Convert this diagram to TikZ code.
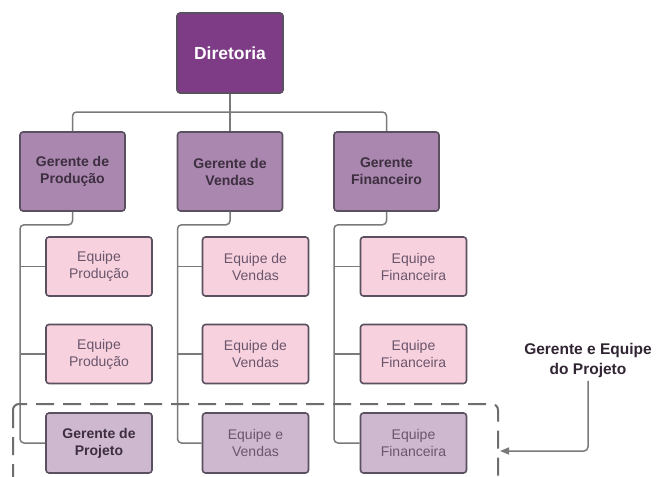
\documentclass[tikz,border=0pt]{standalone}
\usepackage{fontspec}
\setmainfont{Liberation Sans}
\usetikzlibrary{arrows.meta}
\definecolor{dirfill}{HTML}{7D3C85}
\definecolor{gerfill}{HTML}{A987AE}
\definecolor{eqfill}{HTML}{F8D1DE}
\definecolor{projfill}{HTML}{CDB8D0}
\definecolor{boxline}{HTML}{5A5060}
\definecolor{connline}{HTML}{7A7A7A}
\definecolor{gertext}{HTML}{3D2E40}
\definecolor{eqtext}{HTML}{6A566C}
\tikzset{
  box/.style={draw=boxline, line width=1.6pt, rounded corners=3pt, align=center, inner sep=0pt},
  dirbox/.style={box, fill=dirfill, minimum width=106pt, minimum height=80pt, text=white, font=\fontsize{17.5}{21}\selectfont\bfseries},
  gerbox/.style={box, fill=gerfill, minimum width=105pt, minimum height=79pt, text=gertext, font=\fontsize{14}{17}\selectfont\bfseries},
  eqbox/.style={box, fill=eqfill, minimum width=106pt, minimum height=59pt, text=eqtext, font=\fontsize{14}{17}\selectfont},
  projbox/.style={box, fill=projfill, minimum width=106pt, minimum height=60pt, text=eqtext, font=\fontsize{14}{17}\selectfont},
  conn/.style={draw=connline, line width=1.5pt, rounded corners=4pt},
  frame/.style={draw=connline!90!black, line width=2pt, dash pattern=on 18pt off 9pt, rounded corners=6pt},
  lbl/.style={align=center, text=gertext!80!black, font=\fontsize{15.5}{20}\selectfont\bfseries}
}
\begin{document}
\begin{tikzpicture}[x=1pt,y=-1pt]
\clip (0,0) rectangle (657,477);
\fill[white] (0,0) rectangle (657,477);
% top
\node[dirbox] (dir) at (230,53) {Diretoria};
\node[gerbox] (gp) at (72.5,171.5) {Gerente de\\Produção};
\node[gerbox] (gv) at (230,171.5) {Gerente de\\Vendas};
\node[gerbox] (gf) at (386.5,171.5) {Gerente\\Financeiro};
% equipes
\node[eqbox] (p1) at (99,266.5) {Equipe\\Produção};
\node[eqbox] (p2) at (99,354) {Equipe\\Produção};
\node[projbox, text=gertext, font=\fontsize{14}{17}\selectfont\bfseries] (p3) at (99,443) {Gerente de\\Projeto};
\node[eqbox] (v1) at (255.5,266.5) {Equipe de\\Vendas};
\node[eqbox] (v2) at (255.5,354) {Equipe de\\Vendas};
\node[projbox] (v3) at (255.5,443) {Equipe e\\Vendas};
\node[eqbox] (f1) at (413.5,266.5) {Equipe\\Financeira};
\node[eqbox] (f2) at (413.5,354) {Equipe\\Financeira};
\node[projbox] (f3) at (413.5,443) {Equipe\\Financeira};
% bus
\coordinate (bus) at (230,112);
\draw[conn] (gp.north) |- (bus) -| (gf.north);
\draw[conn] (dir.south) -- (gv.north);
% trunks
\foreach \g/\a/\b/\c in {gp/p1/p2/p3, gv/v1/v2/v3, gf/f1/f2/f3}{
  \draw[conn] (\g.south) -- ++(0,13) -| ([xshift=0.8pt]\g.south west |- \c.west) -- (\c.west);
  \draw[conn] ([xshift=0.8pt]\g.south west |- \a.west) -- (\a.west);
  \draw[conn] ([xshift=0.8pt]\g.south west |- \b.west) -- (\b.west);
}
% dashed frame
\coordinate (frtl) at (13,404);
\coordinate (frbr) at (498,500);
\draw[frame] (frtl) rectangle (frbr);
% label
\node[lbl] (lab) at (588,360) {Gerente e Equipe\\do Projeto};
\coordinate (arrend) at (500,451);
\draw[conn, -{Triangle[length=9pt,width=7pt]}] (lab.south) |- (arrend);
\end{tikzpicture}
\end{document}
